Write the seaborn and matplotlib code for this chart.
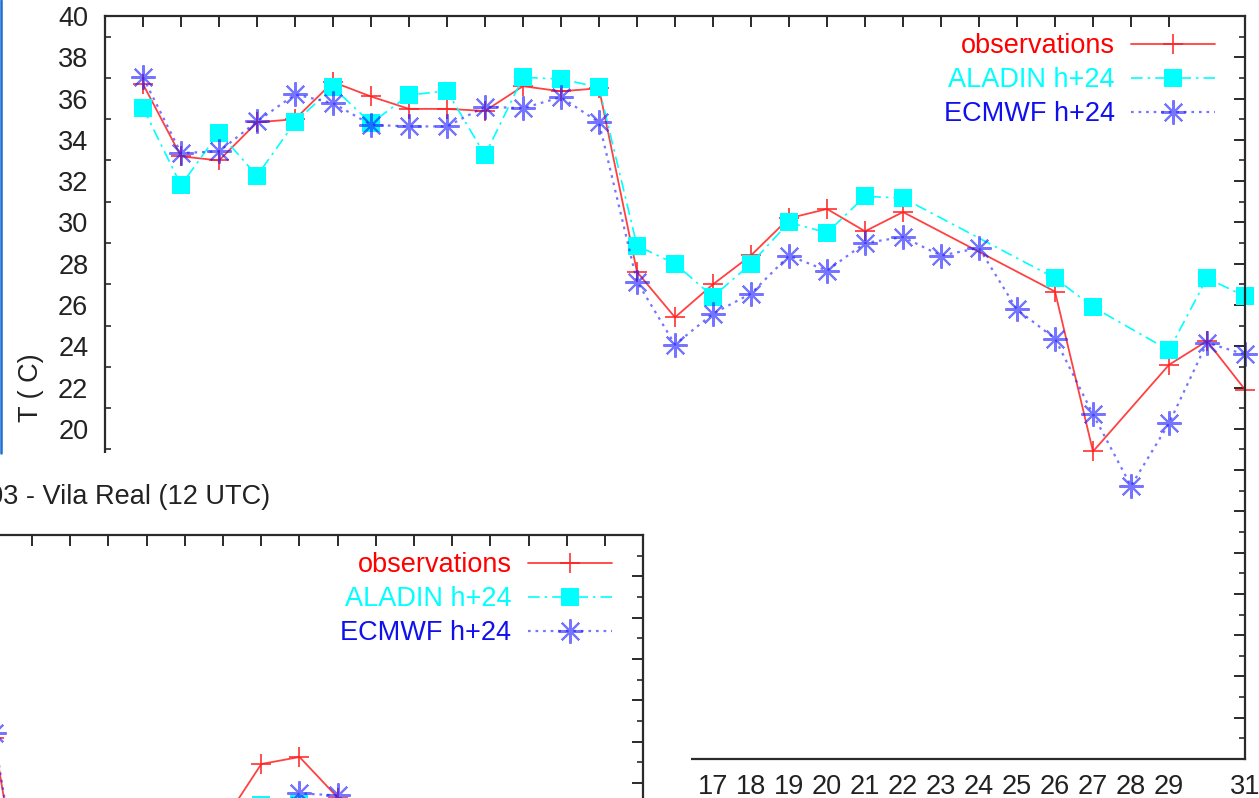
import numpy as np
import pandas as pd
import matplotlib
matplotlib.use("Agg")
import matplotlib.pyplot as plt
from matplotlib.patches import Rectangle
from matplotlib.lines import Line2D
from matplotlib.ticker import MultipleLocator, FixedLocator, NullLocator
import seaborn as sns

nan = np.nan

# ---- Vila Real, 12 UTC temperature (C), current month, days 2-31 ----
days = list(range(2, 32))
observations = [36.7, 33.2, 33.0, 34.85, 35.0, 36.8, 36.1, 35.5, 35.5, 35.4,
                36.6, 36.35, 36.5, 27.6, 25.4, 27.0, 28.4, 30.2, 30.65, 29.57,
                30.5, nan, nan, nan, 26.65, 18.9, nan, 23.1, 24.25, 21.9]
aladin = [35.55, 31.8, 34.35, 32.26, 34.85, 36.55, 34.8, 36.17, 36.37, 33.26,
          37.03, 36.94, 36.55, 28.87, 28.0, 26.4, 28.0, 30.0, 29.5, 31.26,
          31.18, nan, nan, nan, 27.3, 25.9, nan, 23.8, 27.3, 26.42]
ecmwf = [37.03, 33.36, 33.44, 34.89, 36.2, 35.78, 34.73, 34.65, 34.65, 35.61,
         35.53, 36.07, 34.84, 27.13, 24.08, 25.58, 26.55, 28.39, 27.66, 29.0,
         29.29, 28.39, 28.76, 25.78, 24.37, 20.7, 17.23, 20.26, 24.17, 23.6]

# ---- previous month (30 days), partial window ----
prev_days = [13, 14, 19, 20, 21, 22]
prev_obs = [30.2, 19.0, 26.1, 28.92, 29.26, 27.3]
prev_aladin = [nan, nan, nan, 26.94, 27.0, nan]
prev_ecmwf = [30.4, 19.0, nan, nan, 27.5, 27.4]

series_labels = ["observations", "ALADIN h+24", "ECMWF h+24"]
title_text = "2003 - Vila Real (12 UTC)"
ylabel_text = "T ( C)"
xtick_days = list(range(1, 30)) + [31]
xtick_labels = ["" if d < 17 else str(d) for d in xtick_days]
ytick_values = list(range(4, 41, 2))
ytick_labels = ["" if v < 20 else str(v) for v in ytick_values]

# ---- figure geometry (pixels) ----
W, H = 1259, 798
DPI = 100
FS = 19.5

def fx(px):
    return px / W

def fy(py):
    return 1 - py / H

sns.set_theme(style="white")
plt.rcParams["font.family"] = ["Liberation Sans", "DejaVu Sans"]
plt.rcParams["axes.edgecolor"] = "#2a2a2a"
plt.rcParams["axes.linewidth"] = 1.6
plt.rcParams["xtick.color"] = "#2a2a2a"
plt.rcParams["ytick.color"] = "#2a2a2a"

fig = plt.figure(figsize=(W / DPI, H / DPI), dpi=DPI)
fig.patch.set_facecolor("white")

styles = [
    dict(color="#ff2020", marker="+", markersize=14, markeredgewidth=1.3,
         markeredgecolor="#ff2020", linewidth=1.3, linestyle="-", alpha=0.85),
    dict(color="#00ffff", marker="s", markersize=13.5, markeredgewidth=0,
         markeredgecolor="#00ffff", linewidth=1.2,
         linestyle=(0, (7, 3, 1.5, 3))),
    dict(color="#2020ff", marker=(8, 2, 0), markersize=17.5,
         markeredgewidth=1.5, markeredgecolor="#2020ff", linewidth=1.6,
         linestyle=(0, (1.2, 2.2)), alpha=0.62),
]
legend_text_colors = ["#ff0000", "#00ffff", "#1010ee"]


def draw_series(ax, x, ys, clip=True):
    for lab, y, st in zip(series_labels, ys, styles):
        df = pd.DataFrame({"day": x, "T": y}).dropna()
        sns.lineplot(data=df, x="day", y="T", ax=ax, label=lab, sort=True,
                     estimator=None, clip_on=clip, **st)


def style_axes(ax, xmin, xmax, top_ticks):
    ax.set_xlim(xmin, xmax)
    ax.set_ylim(4, 40)
    ax.set_xlabel("")
    ax.set_ylabel("")
    ax.xaxis.set_major_locator(FixedLocator(top_ticks))
    ax.yaxis.set_major_locator(MultipleLocator(2))
    ax.yaxis.set_minor_locator(MultipleLocator(1))
    ax.xaxis.set_minor_locator(NullLocator())
    ax.tick_params(axis="both", which="major", direction="in", length=8,
                   width=1.4, top=True, right=True, labelsize=FS,
                   labelcolor="#222222")
    ax.tick_params(axis="y", which="minor", direction="in", length=4.3,
                   width=1.2, left=True, right=True)
    for sp in ax.spines.values():
        sp.set_visible(True)


def add_legend(ax, right_px, top_px):
    leg = ax.legend(loc="upper right",
                    bbox_to_anchor=(fx(right_px), fy(top_px)),
                    bbox_transform=fig.transFigure,
                    frameon=False, markerfirst=False, numpoints=1,
                    fontsize=FS, handlelength=3.1, handletextpad=0.6,
                    labelspacing=0.3, borderpad=0, borderaxespad=0)
    for t, c in zip(leg.get_texts(), legend_text_colors):
        t.set_color(c)
    return leg


# ---- current month chart ----
ax = fig.add_axes([fx(105), fy(759), (1245 - 105) / W, (759 - 16) / H])
ax.set_facecolor("white")
draw_series(ax, days, [observations, aladin, ecmwf], clip=False)
style_axes(ax, 1, 31, list(range(1, 30)))
ax.set_xticks(xtick_days)
ax.set_xticklabels(xtick_labels)
ax.set_yticks(ytick_values)
ax.set_yticklabels(ytick_labels)
ax.tick_params(axis="x", which="major", pad=11)
ax.tick_params(axis="y", which="major", pad=12)
ax.set_ylabel(ylabel_text, fontsize=FS, color="#222222")
ax.yaxis.set_label_coords((44 - 105) / (1245 - 105), 0.5)
add_legend(ax, 1215, 33)

# left window border
fig.add_artist(Line2D([fx(1), fx(1)], [fy(0), fy(453)],
                      transform=fig.transFigure, color="#1a6fd0",
                      linewidth=1.8, zorder=5))

# ---- previous month chart, stacked over the lower left ----
fig.add_artist(Rectangle((fx(0), fy(798)), fx(691), (798 - 453) / H,
                         transform=fig.transFigure, facecolor="white",
                         edgecolor="none", zorder=1))

day_px = 38.2
right_px = 643.3
left_px = right_px - 29 * day_px
top_px = 535
bottom_px = top_px + 36 * 20.67
ax2 = fig.add_axes([fx(left_px), fy(bottom_px), (right_px - left_px) / W,
                    (bottom_px - top_px) / H], zorder=2)
ax2.set_facecolor("white")
draw_series(ax2, prev_days, [prev_obs, prev_aladin, prev_ecmwf], clip=True)
style_axes(ax2, 1, 30, list(range(1, 30)))
ax2.tick_params(axis="both", labelleft=False, labelbottom=False)
add_legend(ax2, 611.7, 552)

fig.text(fx(270), fy(497), title_text, ha="right", va="center",
         fontsize=FS, color="#222222", zorder=6)

fig.savefig("out.png", dpi=DPI, facecolor="white")
